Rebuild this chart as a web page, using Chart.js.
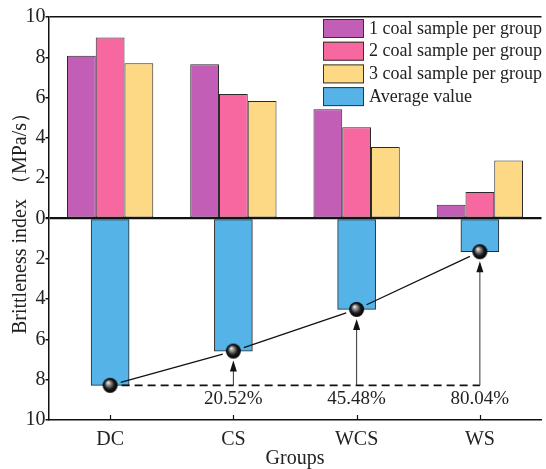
<!DOCTYPE html>
<html>
<head>
<meta charset="utf-8">
<script src="https://cdn.jsdelivr.net/npm/chart.js@4.4.0/dist/chart.umd.min.js"></script>
<style>
  html, body { margin: 0; padding: 0; background: #fff; overflow: hidden; }
  canvas { display: block; }
</style>
</head>
<body>
<canvas id="brittleChart" width="550" height="469"></canvas>
<script>
// data
const groups = ['DC', 'CS', 'WCS', 'WS'];
const sample1 = [8.08, 7.66, 5.42, 0.68];
const sample2 = [8.98, 6.18, 4.53, 1.32];
const sample3 = [7.70, 5.83, 3.55, 2.88];
const averageValue = [8.28, 6.58, 4.51, 1.65];
const reductionLabels = ['', '20.52%', '45.48%', '80.04%'];
const seriesNames = ['1 coal sample per group', '2 coal sample per group', '3 coal sample per group', 'Average value'];

const serif = "'Liberation Serif', 'Times New Roman', serif";
const ballR = 7.5;

function makeBall(r) {
  const c = document.createElement('canvas');
  c.width = c.height = Math.ceil(r * 2) + 2;
  const g = c.getContext('2d');
  const cx = c.width / 2, cy = c.height / 2;
  const grad = g.createRadialGradient(cx - r * 0.3, cy - r * 0.4, 0, cx, cy, r);
  grad.addColorStop(0, '#ffffff');
  grad.addColorStop(0.25, '#a0a0a0');
  grad.addColorStop(0.65, '#1c1c1c');
  grad.addColorStop(1, '#000000');
  g.fillStyle = grad;
  g.beginPath();
  g.arc(cx, cy, r, 0, Math.PI * 2);
  g.fill();
  return c;
}
const ball = makeBall(ballR);

// lines between the balls, arrows, dashed reference and percentages
const overlay = {
  id: 'overlay',
  afterDatasetsDraw(chart) {
    const ctx = chart.ctx;
    const xs = chart.scales.x, ys = chart.scales.y;
    const pts = averageValue.map((v, i) => ({ x: xs.getPixelForValue(i), y: ys.getPixelForValue(-v) }));
    ctx.save();

    // connecting segments, stopping short of the balls
    ctx.strokeStyle = '#111';
    ctx.lineWidth = 1.3;
    for (let i = 0; i < pts.length - 1; i++) {
      const a = pts[i], b = pts[i + 1];
      const dx = b.x - a.x, dy = b.y - a.y, len = Math.hypot(dx, dy);
      const gap = ballR + 3.5;
      ctx.beginPath();
      ctx.moveTo(a.x + dx / len * gap, a.y + dy / len * gap);
      ctx.lineTo(b.x - dx / len * gap, b.y - dy / len * gap);
      ctx.stroke();
    }

    // dashed line at the DC average
    const baseY = pts[0].y;
    ctx.setLineDash([8, 5]);
    ctx.lineWidth = 1.6;
    ctx.beginPath();
    ctx.moveTo(pts[0].x + ballR + 4, baseY);
    ctx.lineTo(pts[pts.length - 1].x, baseY);
    ctx.stroke();
    ctx.setLineDash([]);

    // arrows and labels
    ctx.font = '19px ' + serif;
    ctx.textAlign = 'center';
    ctx.textBaseline = 'middle';
    for (let i = 1; i < pts.length; i++) {
      const tip = pts[i].y + ballR + 2;
      ctx.strokeStyle = '#333';
      ctx.lineWidth = 1;
      ctx.beginPath();
      ctx.moveTo(pts[i].x, baseY);
      ctx.lineTo(pts[i].x, tip + 8);
      ctx.stroke();
      ctx.fillStyle = '#111';
      ctx.beginPath();
      ctx.moveTo(pts[i].x, tip);
      ctx.lineTo(pts[i].x - 3.5, tip + 11);
      ctx.lineTo(pts[i].x + 3.5, tip + 11);
      ctx.closePath();
      ctx.fill();
      ctx.fillStyle = '#222';
      ctx.fillText(reductionLabels[i], pts[i].x, baseY + 14);
    }
    ctx.restore();
  },
  afterDraw(chart) {
    const ctx = chart.ctx;
    const area = chart.chartArea;
    const xs = chart.scales.x;
    ctx.save();
    // inward ticks on the x axis
    ctx.strokeStyle = '#111';
    ctx.lineWidth = 1.2;
    groups.forEach((g, i) => {
      const x = Math.round(xs.getPixelForValue(i)) + 0.5;
      ctx.beginPath();
      ctx.moveTo(x, area.bottom);
      ctx.lineTo(x, area.bottom - 5);
      ctx.stroke();
    });
    // legend in the top right corner
    ctx.font = '18px ' + serif;
    ctx.textAlign = 'left';
    ctx.textBaseline = 'middle';
    chart.data.datasets.slice(0, 4).forEach((ds, i) => {
      const y = 19 + i * 22.7;
      ctx.fillStyle = ds.backgroundColor;
      ctx.fillRect(323, y, 41, 19);
      ctx.strokeStyle = '#333';
      ctx.lineWidth = 1;
      ctx.strokeRect(323.5, y + 0.5, 40, 18);
      ctx.fillStyle = '#222';
      ctx.fillText(ds.label, 369, y + 10);
    });
    ctx.restore();
  }
};

const barStyle = { borderColor: '#2a2a2a', borderWidth: 1, borderSkipped: false, categoryPercentage: 0.7, barPercentage: 1.0 };

new Chart(document.getElementById('brittleChart'), {
  type: 'bar',
  data: {
    labels: groups,
    datasets: [
      { label: seriesNames[0], data: sample1, backgroundColor: '#C25EB5', ...barStyle },
      { label: seriesNames[1], data: sample2, backgroundColor: '#F6689F', ...barStyle },
      { label: seriesNames[2], data: sample3, backgroundColor: '#FDD985', ...barStyle },
      { label: seriesNames[3], data: averageValue.map(v => -v), backgroundColor: '#56B3E7', grouped: false,
        borderColor: '#2a2a2a', borderWidth: 1, borderSkipped: false, categoryPercentage: 1, barPercentage: 1, maxBarThickness: 38 },
      { type: 'line', label: 'points', data: averageValue.map(v => -v), showLine: false, order: -1,
        pointStyle: ball, pointRadius: ballR, pointHoverRadius: ballR }
    ]
  },
  options: {
    responsive: false,
    animation: false,
    devicePixelRatio: 1,
    layout: { padding: { top: 17, right: 1.5, left: 0, bottom: 0 } },
    plugins: { legend: { display: false }, tooltip: { enabled: false } },
    scales: {
      x: {
        type: 'category',
        offset: true,
        grid: { display: false },
        border: { display: true, color: '#111', width: 1.5 },
        ticks: { color: '#222', font: { family: serif, size: 20 }, padding: 0 },
        title: { display: true, text: 'Groups', color: '#222', font: { family: serif, size: 20 }, padding: { top: -4, bottom: -2 } },
        afterFit: s => { s.height = 49; }
      },
      y: {
        min: -10,
        max: 10,
        ticks: { stepSize: 2, color: '#222', font: { family: serif, size: 20 }, padding: 0, callback: v => Math.abs(v) },
        grid: {
          drawTicks: true,
          tickLength: 3,
          tickColor: '#111',
          color: c => (c.tick && (c.tick.value === 0 || c.tick.value === 10)) ? '#111' : 'rgba(0,0,0,0)',
          lineWidth: c => (c.tick && c.tick.value === 0) ? 2.2 : 1.5
        },
        border: { display: true, color: '#111', width: 1.5 },
        title: { display: true, text: 'Brittleness index （MPa/s）', color: '#222', font: { family: serif, size: 20 }, padding: { top: 9, bottom: 0 } },
        afterFit: s => { s.width = 48.5; }
      }
    }
  },
  plugins: [overlay]
});
</script>
</body>
</html>
